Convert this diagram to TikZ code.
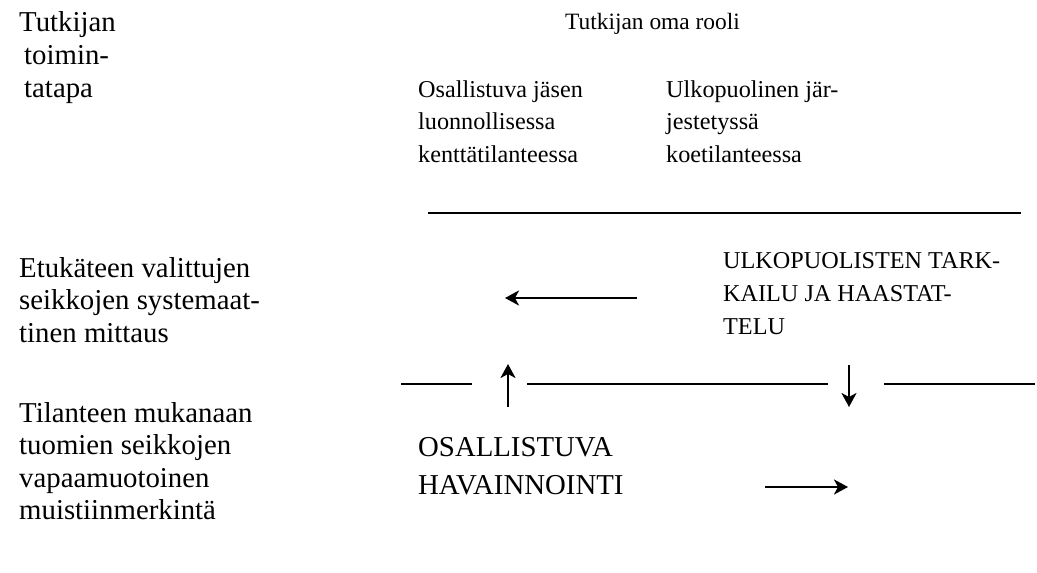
\documentclass[tikz,border=0pt]{standalone}
\usepackage{fontspec}
\setmainfont{Liberation Serif}
\usetikzlibrary{arrows.meta}
\newcommand\bigtxt{\fontsize{28.8}{32.5}\selectfont}
\newcommand\smalltxt{\fontsize{24.2}{32.5}\selectfont}
\newcommand\lnst{\strut}
\begin{document}
\begin{tikzpicture}[x=1pt,y=-1pt,
  txt/.style={anchor=north west, inner sep=0pt, align=left, font=\bigtxt},
  stxt/.style={txt, font=\smalltxt},
  rulel/.style={line width=1.8pt},
  toprule/.style={line width=2.4pt},
  arr/.style={line width=2.6pt, -{Stealth[length=14pt,width=15pt,inset=4pt]}}]
\useasboundingbox (0,0) rectangle (1037,573);
% texts
\node[txt, font=\fontsize{28.8}{33}\selectfont] (tapa) at (19,7.9) {\lnst Tutkijan\\\lnst\hspace{5pt}toimin-\\\lnst\hspace{5pt}tatapa};
\node[stxt, font=\fontsize{23.4}{33}\selectfont] (rooli) at (565,5.9) {\lnst Tutkijan oma rooli};
\node[stxt] (jasen) at (418,74.25) {\lnst Osallistuva jäsen\\\lnst luonnollisessa\\\lnst kenttätilanteessa};
\node[stxt] (ulko) at (666,74.25) {\lnst Ulkopuolinen jär-\\\lnst jestetyssä\\\lnst koetilanteessa};
\node[stxt, font=\fontsize{24.2}{33}\selectfont] (tark) at (723,244.9) {\lnst ULKOPUOLISTEN TARK-\\\lnst KAILU JA HAASTAT-\\\lnst TELU};
\node[txt] (mittaus) at (19,254.25) {\lnst Etukäteen valittujen\\\lnst seikkojen systemaat-\\\lnst tinen mittaus};
\node[txt] (merkinta) at (19,399.25) {\lnst Tilanteen mukanaan\\\lnst tuomien seikkojen\\\lnst vapaamuotoinen\\\lnst muistiinmerkintä};
\node[txt, font=\fontsize{28.8}{38}\selectfont] (havainto) at (418,429.6) {\lnst OSALLISTUVA\\\lnst HAVAINNOINTI};
% rules
\coordinate (t1) at (428,213); \coordinate (t2) at (1021,213);
\draw[toprule] (t1) -- (t2);
\coordinate (m1) at (401,384); \coordinate (m2) at (472,384);
\coordinate (m3) at (527,384); \coordinate (m4) at (828,384);
\coordinate (m5) at (884,384); \coordinate (m6) at (1035,384);
\draw[rulel] (m1) -- (m2);
\draw[rulel] (m3) -- (m4);
\draw[rulel] (m5) -- (m6);
% arrows
\coordinate (a1) at (637,298); \coordinate (a2) at (505,298);
\draw[arr] (a1) -- (a2);
\coordinate (u1) at (508,407); \coordinate (u2) at (508,364);
\draw[arr] (u1) -- (u2);
\coordinate (d1) at (849,365); \coordinate (d2) at (849,407);
\draw[arr] (d1) -- (d2);
\coordinate (b1) at (765,487); \coordinate (b2) at (848,487);
\draw[arr] (b1) -- (b2);
\end{tikzpicture}
\end{document}
